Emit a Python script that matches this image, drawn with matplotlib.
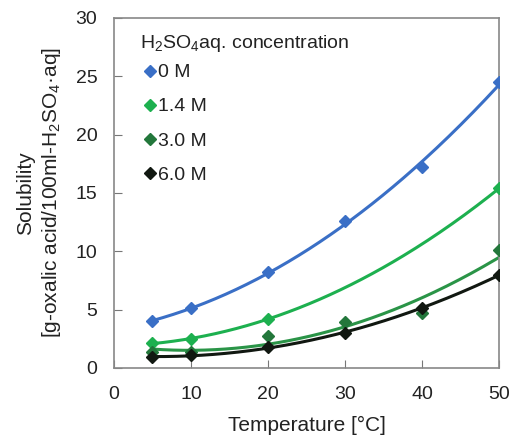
import numpy as np
import matplotlib
matplotlib.use("Agg")
import matplotlib.pyplot as plt
from matplotlib.lines import Line2D

plt.rcParams['font.family'] = ['Liberation Sans', 'DejaVu Sans']
plt.rcParams['mathtext.fontset'] = 'custom'
plt.rcParams['mathtext.rm'] = 'Liberation Sans'

# data
temp_all = [5, 10, 20, 30, 40, 50]
temp_14 = [5, 10, 20, 50]
sol_0M = [4.0, 5.1, 8.2, 12.6, 17.2, 24.5]
sol_14M = [2.1, 2.5, 4.2, 15.4]
sol_30M = [1.4, 1.4, 2.7, 3.9, 4.7, 10.1]
sol_60M = [0.9, 1.1, 1.8, 3.0, 5.1, 8.0]

labels = ['0 M', '1.4 M', '3.0 M', '6.0 M']
marker_colors = ['#3a6fc6', '#1db04f', '#23773b', '#111811']
line_colors = ['#3a6fc6', '#1db04f', '#2a9447', '#111811']
series = [(temp_all, sol_0M), (temp_14, sol_14M), (temp_all, sol_30M), (temp_all, sol_60M)]

fig = plt.figure(figsize=(5.11, 4.38), dpi=100)
ax = fig.add_axes([0.223, 0.160, 0.754, 0.799])

xs = np.linspace(5, 50, 200)
for (x, y), mc, lc in zip(series, marker_colors, line_colors):
    # 2nd order trendline like the original
    coef = np.polyfit(x, y, 2)
    ax.plot(xs, np.polyval(coef, xs), color=lc, lw=2.2, zorder=2)
    ax.plot(x, y, 'D', color=mc, ms=6.5, ls='none', zorder=3)

ax.set_xlim(0, 50)
ax.set_ylim(0, 30)
ax.set_xticks(range(0, 51, 10))
ax.set_yticks(range(0, 31, 5))
ax.tick_params(direction='in', length=6, labelsize=14, color='#777777',
               labelcolor='#222222')
ax.tick_params(axis='x', pad=13)
ax.tick_params(axis='y', pad=12)
for s in ax.spines.values():
    s.set_color('#888888')
    s.set_linewidth(1.2)

ax.set_xlabel('Temperature [°C]', fontsize=15, color='#222222', labelpad=9)
ax.set_ylabel('Solubility\n[g-oxalic acid/100ml-H$_2$SO$_4$·aq]', fontsize=15,
              color='#222222', labelpad=9, linespacing=1.3)

handles = [Line2D([], [], marker='D', color=c, ls='none', ms=6) for c in marker_colors]
leg = ax.legend(handles, labels, loc='upper left', bbox_to_anchor=(0.0675, 0.957),
                frameon=False, title='H$_2$SO$_4$aq. concentration',
                prop={'size': 14}, title_fontsize=14,
                handlelength=1.0, handletextpad=-0.05, labelspacing=0.85,
                alignment='left', borderaxespad=0, borderpad=0)
leg._legend_box.sep = 7  # title sits closer to the entries
for t in leg.get_texts():
    t.set_color('#222222')
leg.get_title().set_color('#222222')

fig.savefig('out.png', dpi=100)
